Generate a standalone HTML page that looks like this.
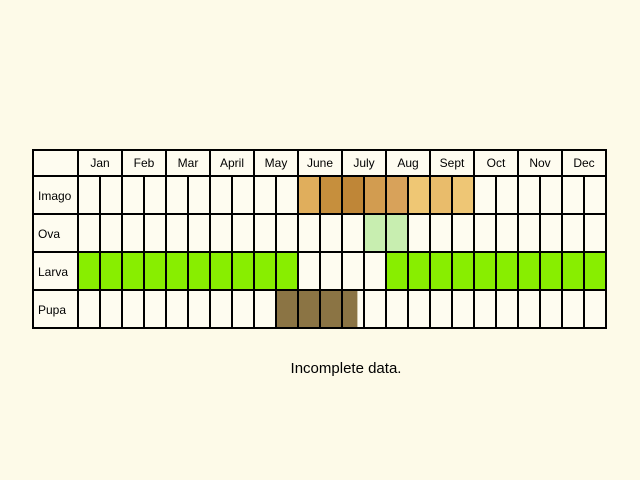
<!DOCTYPE html>
<html><head><meta charset="utf-8"><style>
html,body{margin:0;padding:0;background:#fdfae8;}
svg{display:block;font-family:"Liberation Sans",sans-serif;}
</style></head><body>
<svg id="c" width="640" height="480"></svg>
<script>
const months=["Jan","Feb","Mar","April","May","June","July","Aug","Sept","Oct","Nov","Dec"];
const stages=["Imago","Ova","Larva","Pupa"];
// Each stage: list of [halfMonthIndex, fraction filled, color]
const imago=[[10,1,"#e0ae5c"],[11,1,"#c68f3d"],[12,1,"#bf8637"],[13,1,"#d29c50"],[14,1,"#d8a25a"],[15,1,"#efc774"],[16,1,"#e9bc6b"],[17,1,"#eec675"]];
const ova=[[13,1,"#c8eeb0"],[14,1,"#c8eeb0"]];
const larva=[[0,1,"#88ee00"],[1,1,"#88ee00"],[2,1,"#88ee00"],[3,1,"#88ee00"],[4,1,"#88ee00"],[5,1,"#88ee00"],[6,1,"#88ee00"],[7,1,"#88ee00"],[8,1,"#88ee00"],[9,1,"#88ee00"],[14,1,"#88ee00"],[15,1,"#88ee00"],[16,1,"#88ee00"],[17,1,"#88ee00"],[18,1,"#88ee00"],[19,1,"#88ee00"],[20,1,"#88ee00"],[21,1,"#88ee00"],[22,1,"#88ee00"],[23,1,"#88ee00"]];
const pupa=[[9,1,"#8b7444"],[10,1,"#8b7444"],[11,1,"#8b7444"],[12,0.7,"#8b7444"]];
const stageData=[imago,ova,larva,pupa];

const ns="http://www.w3.org/2000/svg";
const svg=document.getElementById("c");
const X0=33,LX=78,X1=606,Y0=150,HY=176,RH=38;
const HW=(X1-LX)/24;
function xs(i){return LX+i*HW;}
function ys(r){return HY+r*RH;}
function mk(t,a){const e=document.createElementNS(ns,t);for(const k in a)e.setAttribute(k,a[k]);svg.appendChild(e);return e;}
let bg=mk("rect",{x:X0,y:Y0,width:X1-X0,height:ys(4)-Y0,fill:"#fefcf0"});


stageData.forEach((arr,r)=>{arr.forEach(d=>{
 const e=mk("rect",{x:xs(d[0]),y:ys(r),width:HW*d[1],height:RH,fill:d[2]});
 
 
});});
// grid lines
for(let i=0;i<=24;i++){
 const y1=(i%2===0)?Y0:HY;
 const l=mk("line",{x1:xs(i),x2:xs(i),y1:y1,y2:ys(4),stroke:"#000","stroke-width":2});
 
 
}
for(let r=0;r<=4;r++){
 const l=mk("line",{x1:X0,x2:X1,y1:ys(r),y2:ys(r),stroke:"#000","stroke-width":2});
 
 
}
const ob=mk("rect",{x:X0,y:Y0,width:X1-X0,height:ys(4)-Y0,fill:"none",stroke:"#000","stroke-width":2});


months.forEach((m,i)=>{
 const t=mk("text",{x:xs(i*2)+HW,y:Y0+17,"text-anchor":"middle","font-size":12,fill:"#000"});
 t.textContent=m;
 
 
});
stages.forEach((s,r)=>{
 const t=mk("text",{x:X0+5,y:ys(r)+RH/2+5,"font-size":12,fill:"#000"});
 t.textContent=s;
 
 
});
const n=mk("text",{x:346,y:373,"text-anchor":"middle","font-size":15,fill:"#000"});
n.textContent="Incomplete data.";


</script>
</body></html>
